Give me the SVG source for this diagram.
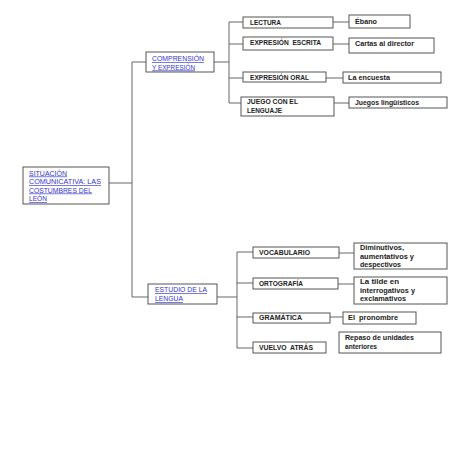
<svg xmlns="http://www.w3.org/2000/svg" width="453" height="453" viewBox="0 0 453 453" xml:space="preserve">
<style>
.box{fill:#fff;stroke:#555;stroke-width:1}
.ln{fill:none;stroke:#666;stroke-width:1}
.t{font-family:"Liberation Sans","Open Sans",sans-serif;font-size:6.6px;font-weight:bold;fill:#222;white-space:pre}
.lk{font-family:"Liberation Sans","Open Sans",sans-serif;font-size:6.6px;fill:#3333cc;text-decoration:underline}
</style>
<rect width="453" height="453" fill="#fff"/>
<g id="connectors">
<path class="ln" d="M109,183H132M132,62V297M132,62H146M132,297H148"/>
<path class="ln" d="M214,62H229M229,22V103M229,22H243M229,44H243M229,78H243M229,103H241"/>
<path class="ln" d="M333,22H349M333,44H349M326,78H343M334,103H349"/>
<path class="ln" d="M217,297H237M237,252V348M237,252H253M237,283H253M237,317H253M237,348H253"/>
<path class="ln" d="M339,253H354M338,284H354M330,317H343"/>
</g>
<g id="root"><rect class="box" x="23" y="167" width="86" height="37"/>
<text class="lk" x="29" y="175.5" textLength="38" lengthAdjust="spacingAndGlyphs">SITUACIÓN</text>
<text class="lk" x="29" y="184" textLength="72" lengthAdjust="spacingAndGlyphs">COMUNICATIVA: LAS</text>
<text class="lk" x="29" y="192.5" textLength="63" lengthAdjust="spacingAndGlyphs">COSTUMBRES DEL</text>
<text class="lk" x="29" y="201" textLength="18" lengthAdjust="spacingAndGlyphs">LEÓN</text></g>
<g id="comprension"><rect class="box" x="146" y="52" width="68" height="20"/>
<text class="lk" x="152" y="61.3" textLength="52" lengthAdjust="spacingAndGlyphs">COMPRENSIÓN</text>
<text class="lk" x="152" y="69.5" textLength="43" lengthAdjust="spacingAndGlyphs">Y EXPRESIÓN</text></g>
<g id="estudio"><rect class="box" x="148" y="284" width="69" height="20"/>
<text class="lk" x="155" y="292.3" textLength="52" lengthAdjust="spacingAndGlyphs">ESTUDIO DE LA</text>
<text class="lk" x="155" y="301" textLength="28" lengthAdjust="spacingAndGlyphs">LENGUA</text></g>
<g id="lectura"><rect class="box" x="243" y="17" width="90" height="11"/>
<text class="t" x="250" y="25" textLength="31" lengthAdjust="spacingAndGlyphs">LECTURA</text></g>
<g id="ebano"><rect class="box" x="349" y="15" width="61" height="13"/>
<text class="t" x="355" y="24.3" textLength="22" lengthAdjust="spacingAndGlyphs">Ébano</text></g>
<g id="escrita"><rect class="box" x="243" y="37" width="90" height="13"/>
<text class="t" x="250" y="45.3" textLength="71" lengthAdjust="spacingAndGlyphs">EXPRESIÓN  ESCRITA</text></g>
<g id="cartas"><rect class="box" x="349" y="38" width="85" height="15"/>
<text class="t" x="355" y="46.3" textLength="59" lengthAdjust="spacingAndGlyphs">Cartas al director</text></g>
<g id="oral"><rect class="box" x="243" y="72" width="83" height="10"/>
<text class="t" x="250" y="80.3" textLength="59" lengthAdjust="spacingAndGlyphs">EXPRESIÓN ORAL</text></g>
<g id="encuesta"><rect class="box" x="343" y="72" width="98" height="11"/>
<text class="t" x="348" y="80.3" textLength="42" lengthAdjust="spacingAndGlyphs">La encuesta</text></g>
<g id="juego"><rect class="box" x="241" y="97" width="93" height="19"/>
<text class="t" x="247" y="104.3" textLength="51" lengthAdjust="spacingAndGlyphs">JUEGO CON EL</text>
<text class="t" x="247" y="113.3" textLength="35" lengthAdjust="spacingAndGlyphs">LENGUAJE</text></g>
<g id="juegos"><rect class="box" x="349" y="97" width="98" height="11"/>
<text class="t" x="355" y="105.3" textLength="64" lengthAdjust="spacingAndGlyphs">Juegos lingüísticos</text></g>
<g id="vocabulario"><rect class="box" x="253" y="247" width="86" height="11"/>
<text class="t" x="259" y="255.3" textLength="51" lengthAdjust="spacingAndGlyphs">VOCABULARIO</text></g>
<g id="diminutivos"><rect class="box" x="354" y="243" width="93" height="26"/>
<text class="t" x="360" y="250.3" textLength="44" lengthAdjust="spacingAndGlyphs">Diminutivos,</text>
<text class="t" x="360" y="259.3" textLength="54" lengthAdjust="spacingAndGlyphs">aumentativos y</text>
<text class="t" x="360" y="267.3" textLength="41" lengthAdjust="spacingAndGlyphs">despectivos</text></g>
<g id="ortografia"><rect class="box" x="253" y="278" width="85" height="11"/>
<text class="t" x="259" y="286.3" textLength="44" lengthAdjust="spacingAndGlyphs">ORTOGRAFÍA</text></g>
<g id="tilde"><rect class="box" x="354" y="277" width="93" height="27"/>
<text class="t" x="360" y="284.3" textLength="39" lengthAdjust="spacingAndGlyphs">La tilde en</text>
<text class="t" x="360" y="293" textLength="55" lengthAdjust="spacingAndGlyphs">interrogativos y</text>
<text class="t" x="360" y="301.3" textLength="46" lengthAdjust="spacingAndGlyphs">exclamativos</text></g>
<g id="gramatica"><rect class="box" x="253" y="313" width="77" height="10"/>
<text class="t" x="259" y="319.8" textLength="43" lengthAdjust="spacingAndGlyphs">GRAMÁTICA</text></g>
<g id="pronombre"><rect class="box" x="343" y="312" width="73" height="12"/>
<text class="t" x="348" y="319.8" textLength="50" lengthAdjust="spacingAndGlyphs">El  pronombre</text></g>
<g id="vuelvo"><rect class="box" x="253" y="342" width="73" height="11"/>
<text class="t" x="259" y="350" textLength="54" lengthAdjust="spacingAndGlyphs">VUELVO  ATRÁS</text></g>
<g id="repaso"><rect class="box" x="339" y="332" width="102" height="21"/>
<text class="t" x="345" y="340.3" textLength="69" lengthAdjust="spacingAndGlyphs">Repaso de unidades</text>
<text class="t" x="345" y="349.3" textLength="32" lengthAdjust="spacingAndGlyphs">anteriores</text></g>
</svg>
